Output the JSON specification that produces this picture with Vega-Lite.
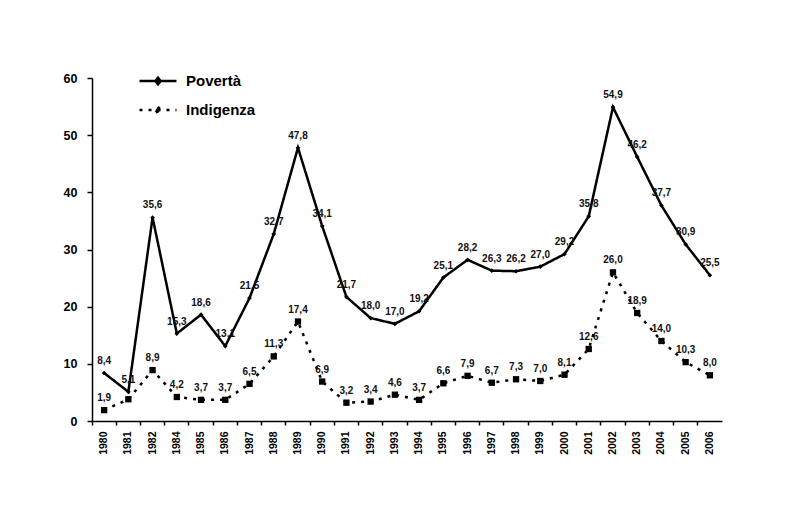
{
  "$schema": "https://vega.github.io/schema/vega-lite/v6.json",
  "width": 630,
  "height": 343,
  "autosize": {"type": "none"},
  "padding": {"left": 92, "top": 78, "right": 71, "bottom": 90},
  "background": "white",
  "config": {
    "view": {"stroke": null},
    "font": "Liberation Sans",
    "axis": {"grid": false, "domainColor": "#000", "domainWidth": 1.5, "tickColor": "#000", "tickWidth": 1.5, "labelColor": "#000", "labelFont": "Liberation Sans", "labelFontWeight": "bold", "title": null}
  },
  "resolve": {"scale": {"shape": "independent", "size": "independent"}},
  "data": {
    "values": [
      {"anno": "1980", "serie": "Povertà", "valore": 8.4, "etichetta": "8,4"},
      {"anno": "1981", "serie": "Povertà", "valore": 5.1, "etichetta": "5,1"},
      {"anno": "1982", "serie": "Povertà", "valore": 35.6, "etichetta": "35,6"},
      {"anno": "1984", "serie": "Povertà", "valore": 15.3, "etichetta": "15,3"},
      {"anno": "1985", "serie": "Povertà", "valore": 18.6, "etichetta": "18,6"},
      {"anno": "1986", "serie": "Povertà", "valore": 13.1, "etichetta": "13,1"},
      {"anno": "1987", "serie": "Povertà", "valore": 21.5, "etichetta": "21,5"},
      {"anno": "1988", "serie": "Povertà", "valore": 32.7, "etichetta": "32,7"},
      {"anno": "1989", "serie": "Povertà", "valore": 47.8, "etichetta": "47,8"},
      {"anno": "1990", "serie": "Povertà", "valore": 34.1, "etichetta": "34,1"},
      {"anno": "1991", "serie": "Povertà", "valore": 21.7, "etichetta": "21,7"},
      {"anno": "1992", "serie": "Povertà", "valore": 18.0, "etichetta": "18,0"},
      {"anno": "1993", "serie": "Povertà", "valore": 17.0, "etichetta": "17,0"},
      {"anno": "1994", "serie": "Povertà", "valore": 19.2, "etichetta": "19,2"},
      {"anno": "1995", "serie": "Povertà", "valore": 25.1, "etichetta": "25,1"},
      {"anno": "1996", "serie": "Povertà", "valore": 28.2, "etichetta": "28,2"},
      {"anno": "1997", "serie": "Povertà", "valore": 26.3, "etichetta": "26,3"},
      {"anno": "1998", "serie": "Povertà", "valore": 26.2, "etichetta": "26,2"},
      {"anno": "1999", "serie": "Povertà", "valore": 27.0, "etichetta": "27,0"},
      {"anno": "2000", "serie": "Povertà", "valore": 29.2, "etichetta": "29,2"},
      {"anno": "2001", "serie": "Povertà", "valore": 35.8, "etichetta": "35,8"},
      {"anno": "2002", "serie": "Povertà", "valore": 54.9, "etichetta": "54,9"},
      {"anno": "2003", "serie": "Povertà", "valore": 46.2, "etichetta": "46,2"},
      {"anno": "2004", "serie": "Povertà", "valore": 37.7, "etichetta": "37,7"},
      {"anno": "2005", "serie": "Povertà", "valore": 30.9, "etichetta": "30,9"},
      {"anno": "2006", "serie": "Povertà", "valore": 25.5, "etichetta": "25,5"},
      {"anno": "1980", "serie": "Indigenza", "valore": 1.9, "etichetta": "1,9"},
      {"anno": "1981", "serie": "Indigenza", "valore": 3.8, "etichetta": ""},
      {"anno": "1982", "serie": "Indigenza", "valore": 8.9, "etichetta": "8,9"},
      {"anno": "1984", "serie": "Indigenza", "valore": 4.2, "etichetta": "4,2"},
      {"anno": "1985", "serie": "Indigenza", "valore": 3.7, "etichetta": "3,7"},
      {"anno": "1986", "serie": "Indigenza", "valore": 3.7, "etichetta": "3,7"},
      {"anno": "1987", "serie": "Indigenza", "valore": 6.5, "etichetta": "6,5"},
      {"anno": "1988", "serie": "Indigenza", "valore": 11.3, "etichetta": "11,3"},
      {"anno": "1989", "serie": "Indigenza", "valore": 17.4, "etichetta": "17,4"},
      {"anno": "1990", "serie": "Indigenza", "valore": 6.9, "etichetta": "6,9"},
      {"anno": "1991", "serie": "Indigenza", "valore": 3.2, "etichetta": "3,2"},
      {"anno": "1992", "serie": "Indigenza", "valore": 3.4, "etichetta": "3,4"},
      {"anno": "1993", "serie": "Indigenza", "valore": 4.6, "etichetta": "4,6"},
      {"anno": "1994", "serie": "Indigenza", "valore": 3.7, "etichetta": "3,7"},
      {"anno": "1995", "serie": "Indigenza", "valore": 6.6, "etichetta": "6,6"},
      {"anno": "1996", "serie": "Indigenza", "valore": 7.9, "etichetta": "7,9"},
      {"anno": "1997", "serie": "Indigenza", "valore": 6.7, "etichetta": "6,7"},
      {"anno": "1998", "serie": "Indigenza", "valore": 7.3, "etichetta": "7,3"},
      {"anno": "1999", "serie": "Indigenza", "valore": 7.0, "etichetta": "7,0"},
      {"anno": "2000", "serie": "Indigenza", "valore": 8.1, "etichetta": "8,1"},
      {"anno": "2001", "serie": "Indigenza", "valore": 12.6, "etichetta": "12,6"},
      {"anno": "2002", "serie": "Indigenza", "valore": 26.0, "etichetta": "26,0"},
      {"anno": "2003", "serie": "Indigenza", "valore": 18.9, "etichetta": "18,9"},
      {"anno": "2004", "serie": "Indigenza", "valore": 14.0, "etichetta": "14,0"},
      {"anno": "2005", "serie": "Indigenza", "valore": 10.3, "etichetta": "10,3"},
      {"anno": "2006", "serie": "Indigenza", "valore": 8.0, "etichetta": "8,0"}
    ]
  },
  "encoding": {
    "x": {
      "field": "anno", "type": "ordinal", "sort": null,
      "scale": {"type": "band", "paddingInner": 0, "paddingOuter": 0},
      "axis": {"labelAngle": -90, "labelFontSize": 10.5, "tickSize": 4, "labelPadding": 6, "bandPosition": 0, "labelAlign": "right", "labelBaseline": "middle"}
    },
    "y": {
      "field": "valore", "type": "quantitative",
      "scale": {"domain": [0, 60], "nice": false},
      "axis": {"values": [0, 10, 20, 30, 40, 50, 60], "labelFontSize": 12.5, "tickSize": 5, "labelPadding": 10}
    }
  },
  "layer": [
    {
      "mark": {"type": "line", "color": "#000", "strokeWidth": 2.5, "strokeCap": "butt"},
      "encoding": {
        "strokeDash": {
          "field": "serie", "type": "nominal",
          "scale": {"domain": ["Povertà", "Indigenza"], "range": [[1, 0], [3, 6]]},
          "legend": {"title": null, "orient": "none", "legendX": 46, "legendY": -17, "symbolType": "M-1,0L1,0M0,-0.18L0.14,0L0,0.18L-0.14,0Z", "symbolSize": 1370, "symbolStrokeWidth": 2.5, "symbolStrokeColor": "#000", "symbolFillColor": "#000", "labelFontSize": 15, "labelFontWeight": "bold", "labelColor": "#000", "rowPadding": -10, "labelOffset": 8}
        }
      }
    },
    {
      "mark": {"type": "point", "filled": true, "color": "#000", "opacity": 1},
      "encoding": {
        "shape": {"field": "serie", "type": "nominal", "scale": {"domain": ["Povertà", "Indigenza"], "range": ["diamond", "square"]}, "legend": null},
        "size": {"field": "serie", "type": "nominal", "scale": {"domain": ["Povertà", "Indigenza"], "range": [22, 40]}, "legend": null}
      }
    },
    {
      "mark": {"type": "text", "dy": -12, "fontSize": 10, "fontWeight": "bold", "color": "#111"},
      "encoding": {"text": {"field": "etichetta"}}
    }
  ]
}
